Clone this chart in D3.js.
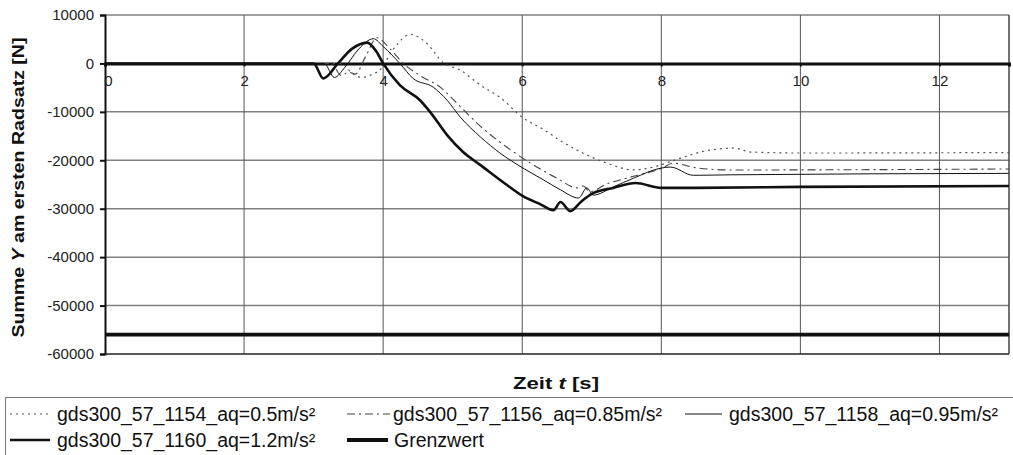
<!DOCTYPE html>
<html><head><meta charset="utf-8">
<script src="https://cdnjs.cloudflare.com/ajax/libs/d3/7.8.5/d3.min.js"></script>
<style>
body{margin:0;background:#fff;}
svg{display:block;font-family:Arial,"Liberation Sans",sans-serif;}
</style></head><body>
<svg id="c" width="1013" height="455"></svg>
<script>
// ---- data ----
const xTicks = [0, 2, 4, 6, 8, 10, 12];
const yTicks = [10000, 0, -10000, -20000, -30000, -40000, -50000, -60000];

const t1154 = [0, 3.4, 3.55, 3.7, 3.85, 3.95, 4.15, 4.39, 4.63, 4.86, 5.11, 5.4, 5.68, 6.0, 6.3, 6.59, 7.22, 7.6, 7.85, 8.27, 8.56, 9.04, 9.3, 10, 13];
const v1154 = [0, 0, -2000, -2900, -2200, -1400, 3000, 6000, 4100, 200, -1400, -4500, -7000, -11100, -13600, -16300, -20600, -22000, -21500, -19600, -18300, -17500, -18300, -18500, -18400];

const t1156 = [0, 3.25, 3.4, 3.5, 3.6, 3.75, 3.91, 4.1, 4.29, 4.53, 4.82, 5.06, 5.4, 5.78, 6.12, 6.5, 6.79, 6.88, 6.97, 7.2, 7.6, 8.0, 8.17, 8.52, 9, 13];
const v1156 = [0, 0, -2500, -1800, -2200, 1500, 5300, 3000, 0, -2500, -4900, -8200, -13000, -17300, -20600, -23700, -25700, -25300, -26500, -25000, -23300, -21700, -20600, -21600, -22000, -21800];

const t1158 = [0, 3.15, 3.3, 3.45, 3.65, 3.86, 4.0, 4.24, 4.43, 4.72, 4.92, 5.11, 5.4, 5.68, 6.01, 6.3, 6.55, 6.81, 6.93, 7.02, 7.31, 7.6, 8.0, 8.13, 8.46, 9, 13];
const v1158 = [0, 0, -2900, -800, 3000, 5100, 3500, 0, -3100, -4900, -7600, -11100, -15200, -18500, -21600, -24000, -26100, -27800, -25700, -27200, -25500, -23700, -21600, -21400, -23100, -23000, -22700];

const t1160 = [0, 3.0, 3.14, 3.35, 3.55, 3.77, 3.9, 4.0, 4.24, 4.53, 4.68, 4.92, 5.15, 5.4, 5.78, 6.01, 6.25, 6.45, 6.55, 6.69, 6.85, 7.02, 7.31, 7.63, 8.0, 8.5, 10, 13];
const v1160 = [0, 0, -3100, 0, 3000, 4300, 2500, 0, -4500, -7600, -10100, -14800, -18300, -21000, -25100, -27400, -29000, -30300, -28600, -30500, -28500, -26800, -25700, -24700, -25700, -25700, -25500, -25300];

const tGrenz = [0, 13];
const vGrenz = [-56000, -56000];

const seriesNames = ["gds300_57_1154_aq=0.5m/s²", "gds300_57_1156_aq=0.85m/s²", "gds300_57_1158_aq=0.95m/s²", "gds300_57_1160_aq=1.2m/s²", "Grenzwert"];

// ---- chart ----
const svg = d3.select("#c");
const x = d3.scaleLinear().domain([0, 13]).range([105, 1009]);
const y = d3.scaleLinear().domain([-60000, 10000]).range([354, 15]);
const FONT = "Arial, 'Liberation Sans', sans-serif";
const fmt = d => String(d);

const styles = [
  {stroke:"#555", w:1.2, dash:"2,4"},
  {stroke:"#444", w:1.1, dash:"8,4,2,4"},
  {stroke:"#111", w:1, dash:null},
  {stroke:"#111", w:2.6, dash:null},
  {stroke:"#111", w:3.8, dash:null}
];

// horizontal gridlines
svg.append("g").selectAll("line").data(yTicks.filter(d => d !== 0 && d !== -60000))
  .join("line").attr("x1", x(0)).attr("x2", x(13)).attr("y1", d => y(d)).attr("y2", d => y(d))
  .attr("stroke", "#808080").attr("stroke-width", 1.5);
// vertical gridlines
svg.append("g").selectAll("line").data(xTicks.filter(d => d !== 0))
  .join("line").attr("x1", d => x(d)).attr("x2", d => x(d)).attr("y1", y(10000)).attr("y2", y(-60000))
  .attr("stroke", "#555").attr("stroke-width", 1);
// right border
svg.append("line").attr("x1", x(13)).attr("x2", x(13)).attr("y1", y(10000)).attr("y2", y(-60000))
  .attr("stroke", "#444").attr("stroke-width", 1.5);

// y axis
const yAxis = svg.append("g").attr("transform", `translate(${x(0)},0)`)
  .call(d3.axisLeft(y).tickValues(yTicks).tickSize(5).tickPadding(6).tickFormat(fmt));
yAxis.select(".domain").attr("stroke", "#111").attr("stroke-width", 2);
yAxis.selectAll(".tick line").attr("stroke", "#111").attr("stroke-width", 2);
yAxis.selectAll("text").attr("font-size", 15).attr("fill", "#222").attr("font-family", FONT);

// bottom border
svg.append("line").attr("x1", x(0)).attr("x2", x(13)).attr("y1", y(-60000)).attr("y2", y(-60000))
  .attr("stroke", "#222").attr("stroke-width", 1.5);

// x axis at zero
const xAxis = svg.append("g").attr("transform", `translate(0,${y(0)})`)
  .call(d3.axisBottom(x).tickValues(xTicks).tickSize(3).tickPadding(9).tickFormat(fmt));
xAxis.select(".domain").attr("stroke", "#111").attr("stroke-width", 3);
xAxis.selectAll(".tick line").attr("stroke", "#111").attr("stroke-width", 2);
xAxis.selectAll("text").attr("font-size", 15).attr("fill", "#222").attr("font-family", FONT);
xAxis.selectAll(".tick").filter(d => d === 0).select("text").attr("dx", 3);

// series
const allSeries = [[t1154, v1154], [t1156, v1156], [t1158, v1158], [t1160, v1160], [tGrenz, vGrenz]];
const line = d3.line().x(d => x(d[0])).y(d => y(d[1])).curve(d3.curveMonotoneX);
allSeries.forEach((s, i) => {
  const pts = s[0].map((t, k) => [t, s[1][k]]);
  const p = svg.append("path").datum(pts).attr("d", line(pts))
    .attr("fill", "none").attr("stroke", styles[i].stroke).attr("stroke-width", styles[i].w);
  if (styles[i].dash) p.attr("stroke-dasharray", styles[i].dash);
});

// axis titles
const yt = svg.append("text").attr("transform", `translate(18,${(y(10000) + y(-60000)) / 2 + 3}) rotate(-90)`)
  .attr("text-anchor", "middle").attr("dy", "0.35em").attr("font-size", 17).attr("font-weight", "bold").attr("fill", "#111")
  .attr("textLength", 300).attr("lengthAdjust", "spacingAndGlyphs");
yt.append("tspan").text("Summe ");
yt.append("tspan").attr("font-style", "italic").text("Y");
yt.append("tspan").text(" am ersten Radsatz [N]");

const xt = svg.append("text").attr("x", 556).attr("y", 389).attr("text-anchor", "middle")
  .attr("font-size", 17).attr("font-weight", "bold").attr("fill", "#111")
  .attr("textLength", 86).attr("lengthAdjust", "spacingAndGlyphs");
xt.append("tspan").text("Zeit ");
xt.append("tspan").attr("font-style", "italic").text("t");
xt.append("tspan").text("  [s]");

// legend
const lg = svg.append("g");
lg.append("rect").attr("x", 5.5).attr("y", 397.5).attr("width", 1020).attr("height", 70)
  .attr("fill", "none").attr("stroke", "#777").attr("stroke-width", 1);
const legPos = [
  {x1: 10, x2: 50, tx: 57, yy: 414},
  {x1: 347, x2: 390, tx: 393, yy: 414},
  {x1: 685, x2: 722, tx: 729, yy: 414},
  {x1: 10, x2: 50, tx: 57, yy: 440},
  {x1: 347, x2: 388, tx: 394, yy: 440}
];
seriesNames.forEach((n, i) => {
  const p = legPos[i];
  const l = lg.append("line").attr("x1", p.x1).attr("x2", p.x2).attr("y1", p.yy).attr("y2", p.yy)
    .attr("stroke", styles[i].stroke).attr("stroke-width", styles[i].w);
  if (styles[i].dash) l.attr("stroke-dasharray", styles[i].dash);
  lg.append("text").attr("x", p.tx).attr("y", p.yy).attr("dy", "0.35em").attr("font-size", 19.5)
    .attr("fill", "#111").text(n);
});
</script>
</body></html>
